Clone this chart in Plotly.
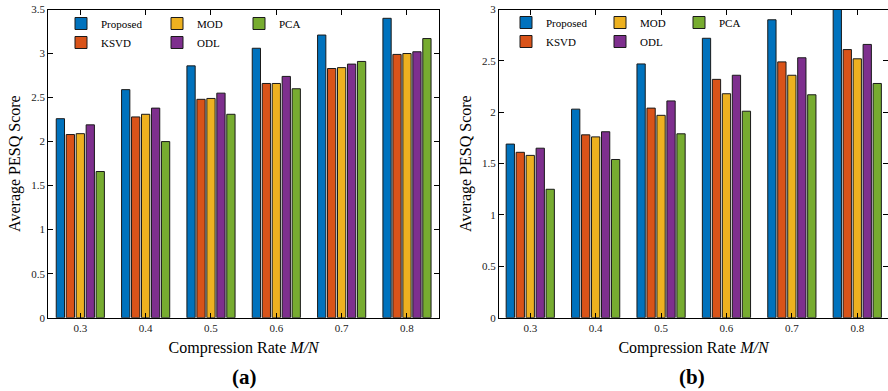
import plotly.graph_objects as go

rates = ["0.3", "0.4", "0.5", "0.6", "0.7", "0.8"]
methods = ["Proposed", "KSVD", "MOD", "ODL", "PCA"]
colors = ["#0072BD", "#D95319", "#EDB120", "#7E2F8E", "#77AC30"]

# (a)
a_proposed = [2.26, 2.59, 2.86, 3.06, 3.21, 3.40]
a_ksvd = [2.08, 2.28, 2.48, 2.66, 2.83, 2.99]
a_mod = [2.09, 2.31, 2.49, 2.66, 2.84, 3.00]
a_odl = [2.19, 2.38, 2.55, 2.74, 2.88, 3.02]
a_pca = [1.66, 2.00, 2.31, 2.60, 2.91, 3.17]

# (b)
b_proposed = [1.69, 2.03, 2.47, 2.72, 2.90, 3.02]
b_ksvd = [1.61, 1.78, 2.04, 2.32, 2.49, 2.61]
b_mod = [1.58, 1.76, 1.97, 2.18, 2.36, 2.52]
b_odl = [1.65, 1.81, 2.11, 2.36, 2.53, 2.66]
b_pca = [1.25, 1.54, 1.79, 2.01, 2.17, 2.28]

a_vals = [a_proposed, a_ksvd, a_mod, a_odl, a_pca]
b_vals = [b_proposed, b_ksvd, b_mod, b_odl, b_pca]

a_yticks = [0, 0.5, 1, 1.5, 2, 2.5, 3, 3.5]
a_ytext = ["0", "0.5", "1", "1.5", "2", "2.5", "3", "3.5"]
b_yticks = [0, 0.5, 1, 1.5, 2, 2.5, 3]
b_ytext = ["0", "0.5", "1", "1.5", "2", "2.5", "3"]

FONT = "Liberation Serif"
W, H = 888, 391

fig = go.Figure()

# legend column assignment: col1 Proposed,KSVD; col2 MOD,ODL; col3 PCA
a_leg = ["legend", "legend", "legend2", "legend2", "legend3"]
b_leg = ["legend4", "legend4", "legend5", "legend5", "legend6"]

for i, m in enumerate(methods):
    fig.add_trace(go.Bar(
        x=rates, y=a_vals[i], name=m, marker_color=colors[i],
        marker_line=dict(color="#1a1a1a", width=1),
        xaxis="x", yaxis="y", legend=a_leg[i], offsetgroup=str(i),
    ))
for i, m in enumerate(methods):
    fig.add_trace(go.Bar(
        x=rates, y=b_vals[i], name=m, marker_color=colors[i],
        marker_line=dict(color="#1a1a1a", width=1),
        xaxis="x2", yaxis="y2", legend=b_leg[i], offsetgroup=str(i),
    ))

def px_x(p):
    return max(0.0, min(1.0, p / W))

def px_y(p):
    return max(0.0, min(1.0, 1 - p / H))

ydom = [px_y(317.7), px_y(9.5)]

axis_common = dict(
    showline=True, linecolor="black", linewidth=1, mirror="ticks",
    ticks="inside", ticklen=5, tickcolor="black", showgrid=False, zeroline=False,
    automargin=False, ticklabeloverflow="allow",
    tickfont=dict(family=FONT, size=11, color="#222"),
)

legend_common = dict(
    bgcolor="rgba(0,0,0,0)", borderwidth=0, orientation="v",
    font=dict(family=FONT, size=11, color="black"),
    xanchor="left", yanchor="top", tracegroupgap=0, itemwidth=30,
)

TFONT = dict(family=FONT, size=16, color="black")

fig.update_layout(
    width=W, height=H,
    margin=dict(l=0, r=0, t=0, b=0, autoexpand=False),
    paper_bgcolor="white", plot_bgcolor="white",
    barmode="group", bargap=0.237, bargroupgap=0.17,
    font=dict(family=FONT, color="black"),
    xaxis=dict(domain=[px_x(48.3), px_x(439)], anchor="y", type="category",
               range=[-0.49, 5.49],
               title=dict(text="Compression Rate <i>M/N</i>", font=TFONT, standoff=8),
               **axis_common),
    yaxis=dict(domain=ydom, anchor="x", range=[0, 3.5], tickvals=a_yticks, ticktext=a_ytext,
               title=dict(text="Average PESQ Score", font=TFONT, standoff=6),
               **axis_common),
    xaxis2=dict(domain=[px_x(499), 1.0], anchor="y2", type="category",
                range=[-0.478, 5.47],
                title=dict(text="Compression Rate <i>M/N</i>", font=TFONT, standoff=8),
                **axis_common),
    yaxis2=dict(domain=ydom, anchor="x2", range=[0, 3], tickvals=b_yticks, ticktext=b_ytext,
                title=dict(text="Average PESQ Score", font=TFONT, standoff=6),
                **axis_common),
    legend=dict(x=px_x(61), y=px_y(9), **legend_common),
    legend2=dict(x=px_x(157), y=px_y(9), **legend_common),
    legend3=dict(x=px_x(239), y=px_y(9), **legend_common),
    legend4=dict(x=px_x(506), y=px_y(8), **legend_common),
    legend5=dict(x=px_x(600), y=px_y(8), **legend_common),
    legend6=dict(x=px_x(679), y=px_y(8), **legend_common),
    annotations=[
        dict(text="<b>(a)</b>", x=px_x(244), y=px_y(377), xref="paper", yref="paper",
             xanchor="center", yanchor="middle",
             showarrow=False, font=dict(family=FONT, size=21, color="black")),
        dict(text="<b>(b)</b>", x=px_x(692), y=px_y(377), xref="paper", yref="paper",
             xanchor="center", yanchor="middle",
             showarrow=False, font=dict(family=FONT, size=21, color="black")),
    ],
)

fig.write_html("out.html", config={"displayModeBar": False},
               post_script="document.body.style.margin='0px';")
